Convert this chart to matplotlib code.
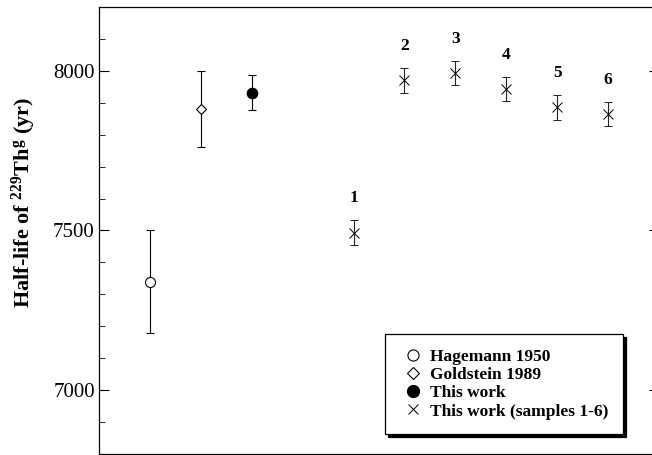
import matplotlib

matplotlib.use("Agg")

import matplotlib.pyplot as plt
from matplotlib.lines import Line2D
from matplotlib.ticker import MultipleLocator

plt.rcParams["font.family"] = ["Liberation Serif", "DejaVu Serif"]
plt.rcParams["mathtext.fontset"] = "custom"
plt.rcParams["mathtext.rm"] = "Liberation Serif:bold"
plt.rcParams["mathtext.default"] = "rm"

# literature values and this work (half-life in years)
ref_labels = ["Hagemann 1950", "Goldstein 1989", "This work"]
ref_x = [1, 2, 3]
ref_val = [7340, 7880, 7932]
ref_err = [160, 120, 54]

# individual samples 1-6
sample_names = ["1", "2", "3", "4", "5", "6"]
sample_x = [5, 6, 7, 8, 9, 10]
sample_val = [7493, 7970, 7994, 7943, 7886, 7866]
sample_err = [39, 38, 38, 38, 39, 38]

fig = plt.figure(figsize=(6.52, 4.55), dpi=100)
ax = fig.add_axes([99 / 652, 1 - 454 / 455, (659 - 99) / 652, (454 - 7) / 455])

ref_styles = [
    dict(marker="o", mfc="white", mec="black", ms=7.2),
    dict(marker="D", mfc="white", mec="black", ms=5.6),
    dict(marker="o", mfc="black", mec="black", ms=7.6),
]
for x, v, e, st in zip(ref_x, ref_val, ref_err, ref_styles):
    ax.errorbar(x, v, yerr=e, fmt="none", ecolor="black", elinewidth=0.8,
                capsize=2.6, capthick=0.8, zorder=2)
    ax.plot(x, v, linestyle="none", mew=0.8, zorder=3, **st)

ax.errorbar(sample_x, sample_val, yerr=sample_err, fmt="x", color="black",
            ms=6.5, mew=0.7, ecolor="#222222", elinewidth=0.8,
            capsize=2.6, capthick=0.8)

for name, x, v, e in zip(sample_names, sample_x, sample_val, sample_err):
    ax.annotate(name, (x, v + e), xytext=(0, 10), textcoords="offset points",
                ha="center", va="bottom", fontsize=12.5, fontweight="bold")

ax.set_xlim(0, 11)
ax.set_ylim(6800, 8200)
ax.yaxis.set_major_locator(MultipleLocator(500))
ax.yaxis.set_minor_locator(MultipleLocator(100))
ax.set_xticks([])
ax.tick_params(axis="y", which="both", direction="in", right=True,
               labelsize=15, pad=3)
ax.tick_params(axis="y", which="major", length=7, width=0.8)
ax.tick_params(axis="y", which="minor", length=4, width=0.6)
for sp in ax.spines.values():
    sp.set_linewidth(0.9)

ax.set_ylabel(r"Half-life of $^{229}$Th$^{g}$ (yr)", fontsize=16,
              fontweight="bold")
ax.yaxis.set_label_coords(-0.109, 0.562)

handles = [
    Line2D([], [], linestyle="none", marker="o", mfc="white", mec="black", ms=8, mew=0.8),
    Line2D([], [], linestyle="none", marker="D", mfc="white", mec="black", ms=6, mew=0.8),
    Line2D([], [], linestyle="none", marker="o", mfc="black", mec="black", ms=8.5),
    Line2D([], [], linestyle="none", marker="x", color="black", ms=7.5, mew=0.7),
]
leg = ax.legend(handles, ref_labels + ["This work (samples 1-6)"],
                loc="lower left", bbox_to_anchor=(0.511, 0.044),
                prop={"weight": "bold", "size": 12.5}, frameon=True,
                fancybox=False, edgecolor="black", framealpha=1,
                handlelength=1.45, handletextpad=0.3, labelspacing=0.12,
                borderpad=0.85, borderaxespad=0,
                shadow={"ox": 2, "oy": -2, "facecolor": "black",
                        "edgecolor": "black", "alpha": 1})
leg.get_frame().set_linewidth(0.9)

fig.savefig("out.png", dpi=100)
